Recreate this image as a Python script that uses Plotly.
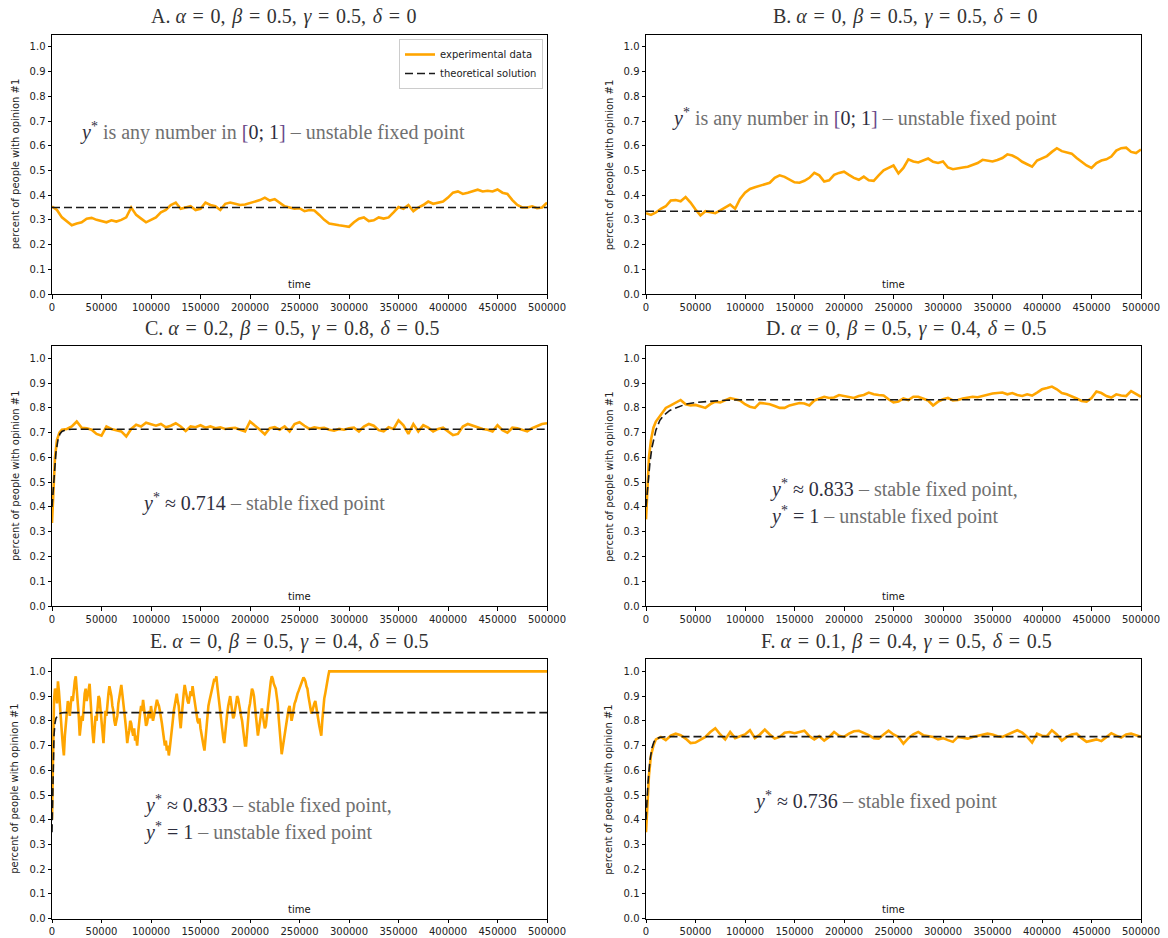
import plotly.graph_objects as go

# ---------------- data ----------------
grid_ab = list(range(0, 500001, 5000))
grid_cdf = [0, 1500, 3000, 5000, 7500] + list(range(10000, 500001, 5000))
grid_e = list(range(0, 280001, 1000)) + [500000]

exp_a = [0.354, 0.34, 0.31, 0.295, 0.278, 0.285, 0.29, 0.305, 0.308, 0.30,
         0.295, 0.29, 0.298, 0.293, 0.30, 0.31, 0.35, 0.32, 0.305, 0.29,
         0.30, 0.31, 0.33, 0.34, 0.36, 0.37, 0.345, 0.35, 0.355, 0.34,
         0.345, 0.37, 0.36, 0.355, 0.34, 0.365, 0.37, 0.365, 0.36, 0.362,
         0.368, 0.374, 0.38, 0.39, 0.378, 0.384, 0.37, 0.355, 0.35, 0.345,
         0.347, 0.335, 0.34, 0.338, 0.32, 0.30, 0.285, 0.28, 0.278, 0.275,
         0.272, 0.29, 0.305, 0.31, 0.295, 0.298, 0.31, 0.305, 0.31, 0.33,
         0.352, 0.345, 0.36, 0.335, 0.35, 0.36, 0.374, 0.365, 0.37, 0.374,
         0.39, 0.41, 0.415, 0.405, 0.41, 0.415, 0.422, 0.415, 0.418, 0.415,
         0.423, 0.41, 0.405, 0.38, 0.36, 0.35, 0.35, 0.355, 0.347, 0.35,
         0.37]

exp_b = [0.327, 0.32, 0.33, 0.345, 0.355, 0.378, 0.38, 0.375, 0.392, 0.37,
         0.342, 0.318, 0.335, 0.33, 0.327, 0.338, 0.35, 0.362, 0.345, 0.385,
         0.41, 0.425, 0.432, 0.438, 0.445, 0.45, 0.47, 0.48, 0.474, 0.462,
         0.452, 0.45, 0.458, 0.47, 0.49, 0.48, 0.455, 0.46, 0.482, 0.49,
         0.495, 0.482, 0.47, 0.462, 0.475, 0.46, 0.458, 0.48, 0.5, 0.51,
         0.52, 0.488, 0.51, 0.545, 0.536, 0.532, 0.54, 0.548, 0.535, 0.53,
         0.536, 0.512, 0.505, 0.51, 0.512, 0.515, 0.522, 0.53, 0.543, 0.54,
         0.536, 0.542, 0.55, 0.565, 0.56, 0.55, 0.535, 0.525, 0.515, 0.54,
         0.55, 0.558, 0.575, 0.59, 0.578, 0.572, 0.568, 0.55, 0.535, 0.52,
         0.51, 0.53, 0.54, 0.545, 0.556, 0.58, 0.59, 0.592, 0.575, 0.57,
         0.585]

exp_c = [0.335, 0.5, 0.6, 0.67, 0.70,
         0.712, 0.715, 0.725, 0.745, 0.72, 0.718, 0.712, 0.695, 0.688, 0.725,
         0.715, 0.71, 0.705, 0.685, 0.715, 0.732, 0.725, 0.74, 0.735, 0.728,
         0.735, 0.722, 0.728, 0.738, 0.725, 0.707, 0.725, 0.722, 0.73, 0.72,
         0.725, 0.718, 0.722, 0.715, 0.718, 0.72, 0.712, 0.705, 0.745, 0.73,
         0.712, 0.693, 0.718, 0.722, 0.712, 0.725, 0.705, 0.735, 0.742, 0.728,
         0.715, 0.722, 0.718, 0.72, 0.712, 0.708, 0.715, 0.712, 0.718, 0.72,
         0.705, 0.725, 0.735, 0.728, 0.71, 0.705, 0.722, 0.715, 0.75, 0.73,
         0.695, 0.735, 0.705, 0.73, 0.72, 0.705, 0.715, 0.72, 0.705, 0.69,
         0.695, 0.725, 0.735, 0.728, 0.722, 0.715, 0.712, 0.705, 0.73, 0.71,
         0.70, 0.72, 0.718, 0.712, 0.705, 0.718, 0.725, 0.735, 0.738]

exp_d = [0.35, 0.5, 0.6, 0.67, 0.72,
         0.745, 0.775, 0.80, 0.81, 0.822, 0.832, 0.815, 0.81, 0.812, 0.805,
         0.80, 0.815, 0.825, 0.822, 0.83, 0.84, 0.835, 0.83, 0.815, 0.805,
         0.80, 0.82, 0.818, 0.815, 0.808, 0.80, 0.80, 0.81, 0.815, 0.82,
         0.818, 0.81, 0.83, 0.838, 0.845, 0.84, 0.842, 0.852, 0.848, 0.845,
         0.84, 0.848, 0.852, 0.862, 0.855, 0.852, 0.85, 0.835, 0.822, 0.826,
         0.838, 0.832, 0.845, 0.845, 0.838, 0.83, 0.81, 0.825, 0.835, 0.84,
         0.83, 0.832, 0.838, 0.84, 0.845, 0.843, 0.848, 0.855, 0.858, 0.86,
         0.862, 0.855, 0.86, 0.852, 0.848, 0.855, 0.85, 0.862, 0.875, 0.88,
         0.886, 0.875, 0.86, 0.855, 0.848, 0.838, 0.828, 0.825, 0.84, 0.866,
         0.86, 0.848, 0.842, 0.855, 0.85, 0.848, 0.868, 0.858, 0.845]

exp_e = [0.40, 0.72, 0.88, 0.93, 0.92, 0.87, 0.96, 0.92, 0.85, 0.80, 0.75, 0.70, 0.66, 0.74, 0.80, 0.84, 0.88, 0.86, 0.82, 0.87,
         0.90, 0.88, 0.94, 0.96, 0.98, 0.93, 0.90, 0.82, 0.74, 0.79, 0.82, 0.80, 0.86, 0.91, 0.93, 0.88, 0.90, 0.94, 0.95, 0.88,
         0.80, 0.75, 0.71, 0.77, 0.82, 0.80, 0.86, 0.90, 0.89, 0.84, 0.80, 0.74, 0.71, 0.78, 0.84, 0.82, 0.88, 0.91, 0.94, 0.92,
         0.90, 0.86, 0.84, 0.80, 0.78, 0.80, 0.82, 0.87, 0.90, 0.93, 0.945, 0.91, 0.88, 0.84, 0.80, 0.76, 0.71, 0.74, 0.76, 0.80,
         0.79, 0.76, 0.74, 0.77, 0.72, 0.74, 0.70, 0.75, 0.80, 0.83, 0.86, 0.84, 0.885, 0.85, 0.82, 0.78, 0.79, 0.82, 0.84, 0.81,
         0.86, 0.83, 0.80, 0.82, 0.84, 0.87, 0.885, 0.87, 0.86, 0.84, 0.82, 0.79, 0.76, 0.73, 0.70, 0.72, 0.68, 0.70, 0.66, 0.69,
         0.72, 0.76, 0.80, 0.84, 0.87, 0.89, 0.91, 0.88, 0.86, 0.81, 0.77, 0.82, 0.88, 0.91, 0.945, 0.92, 0.90, 0.88, 0.87, 0.90,
         0.92, 0.90, 0.94, 0.91, 0.88, 0.85, 0.82, 0.80, 0.79, 0.81, 0.77, 0.74, 0.72, 0.70, 0.68, 0.73, 0.78, 0.82, 0.86, 0.88,
         0.90, 0.92, 0.93, 0.95, 0.97, 0.96, 0.98, 0.94, 0.90, 0.86, 0.83, 0.79, 0.76, 0.73, 0.71, 0.76, 0.80, 0.83, 0.86, 0.88,
         0.90, 0.87, 0.84, 0.81, 0.82, 0.85, 0.87, 0.90, 0.89, 0.86, 0.85, 0.82, 0.80, 0.76, 0.72, 0.70, 0.70, 0.76, 0.82, 0.85,
         0.87, 0.90, 0.93, 0.92, 0.90, 0.86, 0.83, 0.78, 0.74, 0.77, 0.80, 0.83, 0.85, 0.82, 0.80, 0.77, 0.78, 0.82, 0.85, 0.90,
         0.94, 0.96, 0.98, 0.97, 0.95, 0.94, 0.93, 0.90, 0.87, 0.81, 0.75, 0.70, 0.665, 0.69, 0.72, 0.75, 0.78, 0.81, 0.84, 0.85,
         0.86, 0.83, 0.80, 0.82, 0.85, 0.87, 0.88, 0.90, 0.91, 0.92, 0.93, 0.94, 0.95, 0.96, 0.975, 0.97, 0.96, 0.94, 0.93, 0.90,
         0.88, 0.85, 0.83, 0.84, 0.86, 0.87, 0.88, 0.85, 0.82, 0.80, 0.78, 0.76, 0.74, 0.80, 0.86, 0.89, 0.91, 0.94, 0.96, 0.98,
         1.0, 1.0]

exp_f = [0.35, 0.48, 0.58, 0.66, 0.70,
         0.725, 0.735, 0.722, 0.74, 0.748, 0.742, 0.728, 0.71, 0.712, 0.725,
         0.735, 0.755, 0.77, 0.745, 0.725, 0.755, 0.73, 0.738, 0.745, 0.762,
         0.73, 0.745, 0.765, 0.745, 0.728, 0.735, 0.752, 0.755, 0.75, 0.755,
         0.76, 0.738, 0.725, 0.738, 0.72, 0.735, 0.755, 0.74, 0.735, 0.748,
         0.758, 0.76, 0.752, 0.742, 0.73, 0.728, 0.745, 0.76, 0.745, 0.735,
         0.708, 0.73, 0.745, 0.755, 0.742, 0.74, 0.735, 0.725, 0.73, 0.722,
         0.715, 0.735, 0.73, 0.728, 0.735, 0.74, 0.745, 0.748, 0.745, 0.738,
         0.735, 0.745, 0.755, 0.762, 0.752, 0.735, 0.712, 0.748, 0.74, 0.738,
         0.762, 0.745, 0.72, 0.735, 0.745, 0.748, 0.73, 0.715, 0.72, 0.725,
         0.718, 0.735, 0.75, 0.74, 0.732, 0.745, 0.748, 0.742, 0.735]

theo_a_time = [0, 500000]
theo_a = [0.35, 0.35]
theo_b_time = [0, 500000]
theo_b = [0.335, 0.335]
theo_c_time = [0, 2000, 4000, 6000, 8000, 10000, 14000, 20000, 500000]
theo_c = [0.40, 0.53, 0.62, 0.67, 0.695, 0.705, 0.712, 0.714, 0.714]
theo_d_time = [0, 2000, 4000, 6000, 8000, 10000, 14000, 18000, 24000, 30000,
               40000, 50000, 65000, 80000, 100000, 500000]
theo_d = [0.40, 0.50, 0.58, 0.64, 0.68, 0.71, 0.75, 0.77, 0.79, 0.80,
          0.815, 0.822, 0.828, 0.831, 0.833, 0.833]
theo_e_time = [0, 1000, 2000, 3000, 4000, 6000, 9000, 12000, 500000]
theo_e = [0.35, 0.60, 0.74, 0.79, 0.81, 0.825, 0.832, 0.833, 0.833]
theo_f_time = [0, 2000, 4000, 6000, 8000, 10000, 14000, 20000, 500000]
theo_f = [0.40, 0.55, 0.64, 0.69, 0.715, 0.727, 0.733, 0.736, 0.736]

SP = "\u2004"  # slightly wider math spacing
def mt(letter, params):
    g = ["α", "β", "γ", "δ"]
    parts = [f"<i>{g[k]}</i>{SP}={SP}{v}" for k, v in enumerate(params)]
    return f"{letter}. " + f",{SP}".join(parts)

titles = [
    mt("A", ["0", "0.5", "0.5", "0"]),
    mt("B", ["0", "0.5", "0.5", "0"]),
    mt("C", ["0.2", "0.5", "0.8", "0.5"]),
    mt("D", ["0", "0.5", "0.4", "0.5"]),
    mt("E", ["0", "0.5", "0.4", "0.5"]),
    mt("F", ["0.1", "0.4", "0.5", "0.5"]),
]
title_cx = [284, 905, 292, 906, 289, 906]   # title centres (px) as placed in the original

DK = "#2e2e3e"
GR = "#707070"
PU = "#6a4a8a"
YS = f"<span style='color:{DK}'><i>y</i><sup>*</sup></span>"
RANGE01 = (f"<span style='color:{PU}'>[</span><span style='color:{DK}'>0; 1</span>"
           f"<span style='color:{PU}'>]</span>")
notes = [
    [f"{YS} is any number in {RANGE01} – unstable fixed point"],
    [f"{YS} is any number in {RANGE01} – unstable fixed point"],
    [f"{YS}<span style='color:{DK}'> ≈ 0.714</span> – stable fixed point"],
    [f"{YS}<span style='color:{DK}'> ≈ 0.833</span> – stable fixed point,",
     f"{YS}<span style='color:{DK}'> = 1</span> – unstable fixed point"],
    [f"{YS}<span style='color:{DK}'> ≈ 0.833</span> – stable fixed point,",
     f"{YS}<span style='color:{DK}'> = 1</span> – unstable fixed point"],
    [f"{YS}<span style='color:{DK}'> ≈ 0.736</span> – stable fixed point"],
]
note_pos = [(26000, 0.659), (24000, 0.716), (89000, 0.4175),
            (123000, 0.474), (91000, 0.46), (107000, 0.476)]

exp_series = [(grid_ab, exp_a), (grid_ab, exp_b), (grid_cdf, exp_c),
              (grid_cdf, exp_d), (grid_e, exp_e), (grid_cdf, exp_f)]
theo_series = [(theo_a_time, theo_a), (theo_b_time, theo_b), (theo_c_time, theo_c),
               (theo_d_time, theo_d), (theo_e_time, theo_e), (theo_f_time, theo_f)]

# ---------------- layout geometry ----------------
W, H = 1168, 938
xdom = [(52 / W, 547 / W), (646 / W, 1141 / W)]
ydom = [(1 - 294 / H, 1 - 34.5 / H), (1 - 606 / H, 1 - 346 / H), (1 - 918.7 / H, 1 - 659 / H)]
ytitle_x = [15 / W, 609 / W]

fig = go.Figure()
layout = dict(width=W, height=H, margin=dict(l=0, r=0, t=0, b=0, autoexpand=False),
              paper_bgcolor="white", plot_bgcolor="white", template="none",
              font=dict(family="DejaVu Sans", size=10, color="#222"),
              showlegend=True, annotations=[])

tick_font = dict(family="DejaVu Sans", size=10, color="#222")
for i in range(6):
    r, c = divmod(i, 2)
    n = i + 1
    xa = "x" if n == 1 else f"x{n}"
    ya = "y" if n == 1 else f"y{n}"
    xt, xv = exp_series[i]
    fig.add_trace(go.Scatter(x=xt, y=xv, mode="lines", name="experimental data",
                             line=dict(color="#FFA500", width=2.6),
                             showlegend=(i == 0), xaxis=xa, yaxis=ya))
    tt, tv = theo_series[i]
    fig.add_trace(go.Scatter(x=tt, y=tv, mode="lines", name="theoretical solution",
                             line=dict(color="#1a1a1a", width=1.6, dash="8px,4px"),
                             showlegend=(i == 0), xaxis=xa, yaxis=ya))
    common = dict(showline=True, linecolor="black", linewidth=1, mirror=True,
                  ticks="outside", ticklen=3.5, tickcolor="black", tickwidth=0.8,
                  showgrid=False, zeroline=False, tickfont=tick_font, automargin=False)
    layout["xaxis" if n == 1 else f"xaxis{n}"] = dict(
        domain=list(xdom[c]), anchor=ya, range=[0, 500000],
        tickvals=list(range(0, 500001, 50000)),
        ticktext=[str(v) for v in range(0, 500001, 50000)], **common)
    layout["yaxis" if n == 1 else f"yaxis{n}"] = dict(
        domain=list(ydom[r]), anchor=xa, range=[0, 1.05],
        tickvals=[k / 10 for k in range(11)],
        ticktext=[f"{k / 10:.1f}" for k in range(11)], **common)
    # y-axis title
    layout["annotations"].append(dict(
        text="percent of people with opinion #1", xref="paper", yref="paper",
        x=ytitle_x[c], y=(ydom[r][0] + ydom[r][1]) / 2, textangle=-90,
        xanchor="center", yanchor="middle", showarrow=False,
        font=dict(family="DejaVu Sans", size=10, color="#222")))
    # panel title
    layout["annotations"].append(dict(
        text=titles[i], xref="paper", yref="paper",
        x=title_cx[i] / W, y=ydom[r][1] + 4 / H,
        xanchor="center", yanchor="bottom", showarrow=False,
        font=dict(family="Liberation Serif", size=20, color="#333")))
    # x label "time" inside the axes
    layout["annotations"].append(dict(
        text="time", xref="paper", yref="paper",
        x=(xdom[c][0] + xdom[c][1]) / 2, y=ydom[r][0] + 2 / H,
        xanchor="center", yanchor="bottom", showarrow=False,
        font=dict(family="DejaVu Sans", size=10, color="#111")))
    # formula notes
    nx, ny = note_pos[i]
    for k, line in enumerate(notes[i]):
        layout["annotations"].append(dict(
            text=line, xref=xa, yref=ya, x=nx, y=ny - k * 0.108,
            xanchor="left", yanchor="middle", showarrow=False,
            font=dict(family="Liberation Serif", size=20, color=GR)))

layout["legend"] = dict(x=543 / W, y=1 - 39 / H, xanchor="right", yanchor="top",
                        bgcolor="white", bordercolor="#cccccc", borderwidth=1,
                        font=dict(family="DejaVu Sans", size=10, color="#222"),
                        tracegroupgap=0, itemwidth=30)
fig.update_layout(**layout)
fig.write_html("out.html", config={"displayModeBar": False},
               post_script="document.body.style.margin='0';document.body.style.padding='0';")
